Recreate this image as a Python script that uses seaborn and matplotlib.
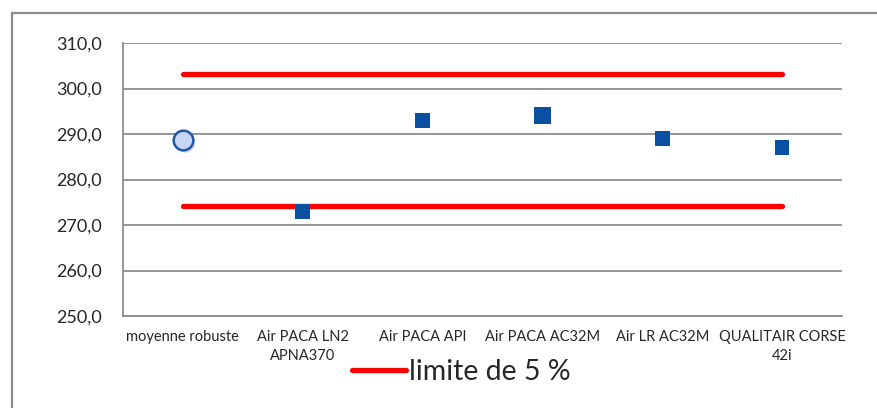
import numpy as np
import pandas as pd
import matplotlib
matplotlib.use("Agg")
import matplotlib.pyplot as plt
import seaborn as sns
from matplotlib.lines import Line2D

# ---------------------------------------------------------------------------
# DATA
# ---------------------------------------------------------------------------
categories = ["moyenne robuste", "Air PACA LN2\nAPNA370", "Air PACA API",
              "Air PACA AC32M", "Air LR AC32M", "QUALITAIR CORSE\n42i"]
robust_mean = 288.7
lab_values = [273.0, 293.0, 294.1, 289.0, 287.0]
tolerance = 0.05
y_ticks = [250, 260, 270, 280, 290, 300, 310]
legend_label = "limite de 5 %"

# ---------------------------------------------------------------------------
# STYLE
# ---------------------------------------------------------------------------
sns.set_style("white")
plt.rcParams["font.family"] = ["Lato", "DejaVu Sans"]

W, H = 877, 408
fig = plt.figure(figsize=(W / 100, H / 100), dpi=100)
ax = fig.add_axes([123 / W, (H - 316) / H, (842 - 123) / W, (316 - 43) / H])

grid_col = "#8c8c8c"
blue = "#0a50a2"

# outer chart frame (cropped at right and bottom in the reference)
fx, fy = 11.5 / W, 1 - 12.5 / H
fig.add_artist(Line2D([fx, fx], [0, fy], transform=fig.transFigure,
                      color=grid_col, linewidth=1.6))
fig.add_artist(Line2D([fx, 1], [fy, fy], transform=fig.transFigure,
                      color=grid_col, linewidth=1.6))

# ---------------------------------------------------------------------------
# MARKS
# ---------------------------------------------------------------------------
pos = np.arange(len(categories))
labs = pd.DataFrame({"x": pos[1:], "value": lab_values,
                     "lab": categories[1:]})

# limit lines at +/- 5 % of the robust mean
limit_df = pd.DataFrame({
    "x": [pos[0], pos[-1], pos[0], pos[-1]],
    "value": [robust_mean * (1 + tolerance)] * 2 + [robust_mean * (1 - tolerance)] * 2,
    "which": ["haut", "haut", "bas", "bas"],
})
sns.lineplot(data=limit_df, x="x", y="value", units="which", estimator=None,
             color="#ff0000", linewidth=3.8, solid_capstyle="round",
             ax=ax, zorder=3, legend=False)

sizes = [110, 110, 150, 110, 110]
sns.scatterplot(data=labs, x="x", y="value", marker="s", color=blue,
                s=sizes, edgecolor="none", ax=ax, zorder=4, legend=False)

# robust mean with a soft shadow
ax.scatter([pos[0] + 0.02], [robust_mean - 0.6], s=210, color="#000000",
           alpha=0.15, edgecolor="none", zorder=4)
ax.scatter([pos[0]], [robust_mean], s=200, color="#c9d5f5",
           edgecolor="#1f58a8", linewidth=1.8, zorder=5)

# ---------------------------------------------------------------------------
# AXES
# ---------------------------------------------------------------------------
ax.set_xlim(-0.5, len(categories) - 0.5)
ax.set_ylim(250, 310)
ax.set_yticks(y_ticks)
ax.set_yticklabels([f"{v:.1f}".replace(".", ",") for v in y_ticks], fontsize=13)
ax.set_xticks(np.arange(len(categories) + 1) - 0.5)
ax.set_xticklabels([])
ax.set_xticks(pos, minor=True)
ax.set_xticklabels(categories, minor=True, fontsize=10.5, linespacing=1.5)
ax.tick_params(axis="x", which="major", direction="out", length=5,
               color=grid_col, width=1.2)
ax.tick_params(axis="x", which="minor", length=0, pad=10)
ax.tick_params(axis="y", direction="out", length=5, color=grid_col,
               width=1.2, pad=10)
ax.set_xlabel("")
ax.set_ylabel("")
ax.yaxis.grid(True, color=grid_col, linewidth=1.3)
ax.set_axisbelow(True)
for side in ["top", "right"]:
    ax.spines[side].set_visible(False)
for side in ["left", "bottom"]:
    ax.spines[side].set_color(grid_col)
    ax.spines[side].set_linewidth(1.3)

handle = Line2D([], [], color="#ff0000", linewidth=3.8, solid_capstyle="round")
fig.legend([handle], [legend_label], loc="center left",
           bbox_to_anchor=(352 / W, 1 - 372 / H), frameon=False,
           fontsize=20.5, handlelength=1.9, handletextpad=0.1,
           borderaxespad=0, borderpad=0)

fig.savefig("out.png", dpi=100)
